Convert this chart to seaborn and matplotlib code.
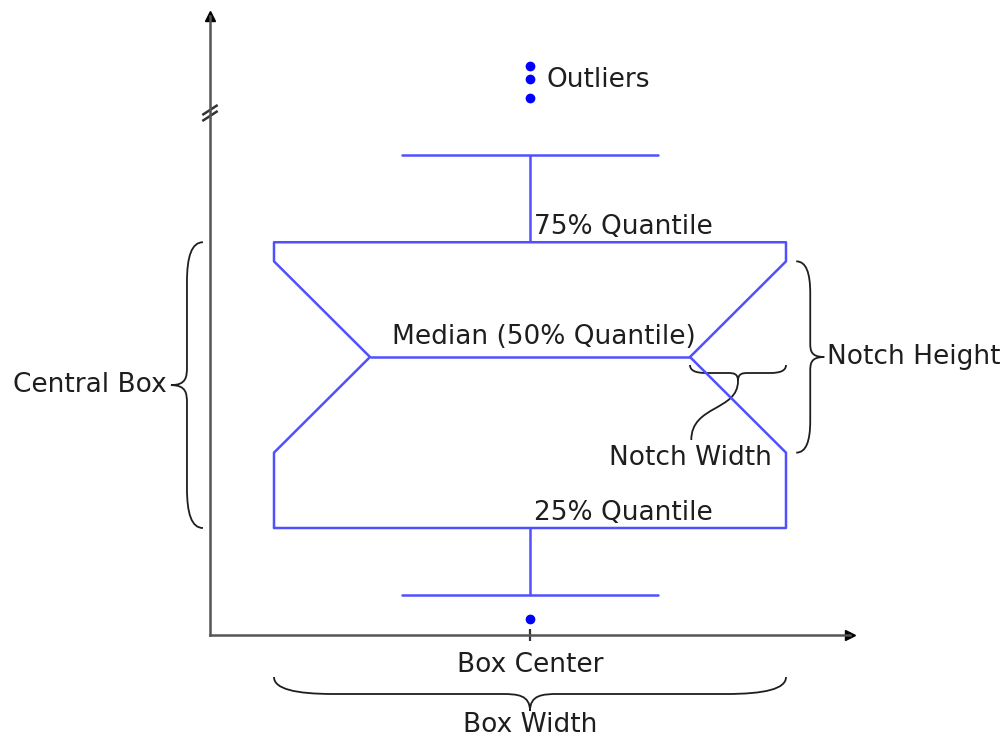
import numpy as np
import pandas as pd
import matplotlib
matplotlib.use("Agg")
import matplotlib.pyplot as plt
from matplotlib.path import Path
from matplotlib.patches import PathPatch
import seaborn as sns

# sample values picked so the box statistics land where the diagram has them
values = [1.6, 4.0, 6.1, 7.9, 9.3, 10.2, 12.2, 16.5, 20.4, 24.0, 26.8,
          28.8, 31.5, 34.2, 36.6, 38.3, 39.6, 44.0, 48.0, 53.7, 55.6, 56.9]
group = ["Box Center"] * len(values)
whis = 0.31
box_width = 0.8
notch_scale = 1.25   # deeper notch than matplotlib's default

sns.set_style("white")
plt.rcParams["font.family"] = ["DejaVu Sans"]
plt.rcParams["font.size"] = 19

box_col = "#5050ff"
dot_col = "#0000ff"
ink = "#1e1e1e"
axis_col = "#555555"

fig = plt.figure(figsize=(10.06, 7.44), dpi=100)
ax = fig.add_axes([210 / 1006, 109 / 744, 640 / 1006, 619 / 744])

df = pd.DataFrame({"group": group, "value": values})
sns.boxplot(data=df, x="group", y="value", notch=True, whis=whis,
            width=box_width, fill=False, color=box_col, linewidth=1.8,
            flierprops=dict(marker="o", markersize=6,
                            markerfacecolor=dot_col, markeredgecolor=dot_col),
            ax=ax)

q1, med, q3 = np.percentile(values, [25, 50, 75])
iqr = q3 - q1
notch = 1.57 * iqr / np.sqrt(len(values))
half = box_width / 2
notch_x = half / 2 * notch_scale

# push the notch tips further in
for ln in ax.lines:
    xd = np.asarray(ln.get_xdata(), float)
    yd = np.asarray(ln.get_ydata(), float)
    if len(xd) > 1:
        m = np.isclose(yd, med)
        xd[m] = xd[m] * notch_scale
        ln.set_xdata(xd)
    if ln.get_marker() == "o":
        ln.set_markerfacecolor(dot_col)
        ln.set_markeredgecolor(dot_col)

ax.set_xlim(-0.5, 0.5)
ax.set_ylim(0, 61.9)
ax.set_xlabel("")
ax.set_ylabel("")
ax.set_yticks([])
ax.tick_params(axis="x", bottom=True, direction="inout", length=9, width=1.6,
               color="#333333", pad=8, labelsize=19, labelcolor=ink)
for s in ["top", "right"]:
    ax.spines[s].set_visible(False)
for s in ["left", "bottom"]:
    ax.spines[s].set_color(axis_col)
    ax.spines[s].set_linewidth(1.8)

# arrow heads and the axis break
ax.plot(0, 1, marker="^", ms=7.5, color="black", transform=ax.transAxes, clip_on=False)
ax.plot(1, 0, marker=">", ms=7.5, color="black", transform=ax.transAxes, clip_on=False)
for dy in [0, -0.6]:
    ax.plot([-0.512, -0.488], [52.0 + dy, 53.0 + dy], color="#333333", lw=1.8,
            solid_capstyle="butt", clip_on=False)


def brace(p0, p1, depth, hook=18, tip=12, lw=1.3):
    # curly brace between two data points; depth, hook and tip are in pixels
    a = ax.transData.transform(p0)
    b = ax.transData.transform(p1)
    L = np.hypot(*(b - a))
    u = (b - a) / L
    n = np.array([-u[1], u[0]])
    h = depth / 2
    ts = [(0, 0), (0, 0.7 * h), (0.35 * hook, h), (hook, h),
          (L / 2 - tip, h),
          (L / 2 - 0.45 * tip, h), (L / 2, 1.05 * h), (L / 2, depth),
          (L / 2, 1.05 * h), (L / 2 + 0.45 * tip, h), (L / 2 + tip, h),
          (L - hook, h),
          (L - 0.35 * hook, h), (L, 0.7 * h), (L, 0)]
    codes = [Path.MOVETO] + [Path.CURVE4] * 3 + [Path.LINETO] + [Path.CURVE4] * 6 \
        + [Path.LINETO] + [Path.CURVE4] * 3
    px = np.array([a + t * u + s * n for t, s in ts])
    pts = ax.transData.inverted().transform(px)
    ax.add_patch(PathPatch(Path(pts, codes), fill=False, ec=ink, lw=lw, clip_on=False))


brace((-0.511, q3), (-0.511, q1), -32, hook=40, tip=18)
brace((half + 0.016, med + notch), (half + 0.016, med - notch), 28, hook=32, tip=14)
brace((-half, -4.2), (half, -4.2), -34, hook=60, tip=28)
brace((notch_x, med - 0.8), (half, med - 0.8), -16, hook=16, tip=10)

# leader from the notch-width brace down to its label
tip_x = (notch_x + half) / 2
lead = Path([(tip_x, med - 2.4), (tip_x, med - 5.4), (notch_x + 0.002, med - 4.8),
             (notch_x + 0.002, med - 8.3)],
            [Path.MOVETO, Path.CURVE4, Path.CURVE4, Path.CURVE4])
ax.add_patch(PathPatch(lead, fill=False, ec=ink, lw=1.3, clip_on=False))

# labels
kw = dict(color=ink, fontsize=19, clip_on=False)
ax.text(0.025, 55.5, "Outliers", ha="left", va="center", **kw)
ax.text(0.006, q3 + 1.5, "75% Quantile", ha="left", va="center", **kw)
ax.text(0.022, med + 2.0, "Median (50% Quantile)", ha="center", va="center", **kw)
ax.text(0.006, q1 + 1.5, "25% Quantile", ha="left", va="center", **kw)
ax.text(0.464, med, "Notch Height", ha="left", va="center", **kw)
ax.text(0.25, 17.7, "Notch Width", ha="center", va="center", **kw)
ax.text(-0.567, (q1 + q3) / 2, "Central Box", ha="right", va="center", **kw)
ax.text(0, -9.0, "Box Width", ha="center", va="center", **kw)

fig.savefig("out.png", dpi=100)
